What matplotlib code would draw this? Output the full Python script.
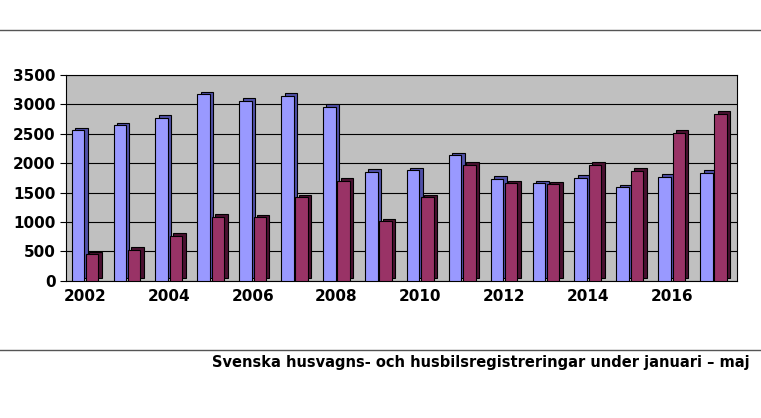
import matplotlib
matplotlib.use("Agg")
import matplotlib.pyplot as plt
import numpy as np

years = list(range(2002, 2018))
husvagnar = [2560, 2640, 2770, 3170, 3060, 3140, 2960, 1850, 1880, 2130, 1730, 1660, 1750, 1590, 1770, 1830]
husbilar = [450, 530, 760, 1090, 1080, 1420, 1700, 1010, 1420, 1970, 1660, 1640, 1970, 1870, 2510, 2840]
tick_labels = [str(y) for y in years[::2]]

fig = plt.figure(figsize=(7.61, 4.18), dpi=100)
ax = fig.add_axes([0.087, 0.328, 0.881, 0.493])
ax.set_facecolor("#c0c0c0")
x = np.arange(len(years))
w = 0.3
dx, dy = 0.08, 45
for xs, vals, front, side in [(x - 0.17, husvagnar, "#9999ff", "#5050a8"),
                              (x + 0.17, husbilar, "#993366", "#4a1030")]:
    ax.bar(xs + dx, np.array(vals) + 0, width=w, bottom=dy, color=side, edgecolor="black", linewidth=0.8, zorder=2)
    ax.bar(xs, vals, width=w, color=front, edgecolor="black", linewidth=0.8, zorder=3)

ax.set_ylim(0, 3500)
ax.set_yticks(range(0, 3501, 500))
ax.set_xlim(-0.45, 15.55)
ax.set_xticks(x[::2])
ax.set_xticklabels(tick_labels)
ax.grid(axis="y", color="black", linewidth=0.8, zorder=1)
ax.set_axisbelow(True)
for lab in ax.get_xticklabels() + ax.get_yticklabels():
    lab.set_fontweight("bold")
    lab.set_fontsize(11)
ax.tick_params(axis="x", length=0, pad=6)
ax.tick_params(axis="y", length=4)
for s in ax.spines.values():
    s.set_color("black")

fig.add_artist(plt.Line2D([0, 1], [1 - 30/418, 1 - 30/418], color="#555555", linewidth=1))
fig.add_artist(plt.Line2D([0, 1], [1 - 350/418, 1 - 350/418], color="#555555", linewidth=1))
fig.text(0.985, 1 - 362/418, "Svenska husvagns- och husbilsregistreringar under januari \u2013 maj",
         ha="right", va="center", fontsize=10.5, fontweight="bold")
fig.savefig("out.png", dpi=100)
